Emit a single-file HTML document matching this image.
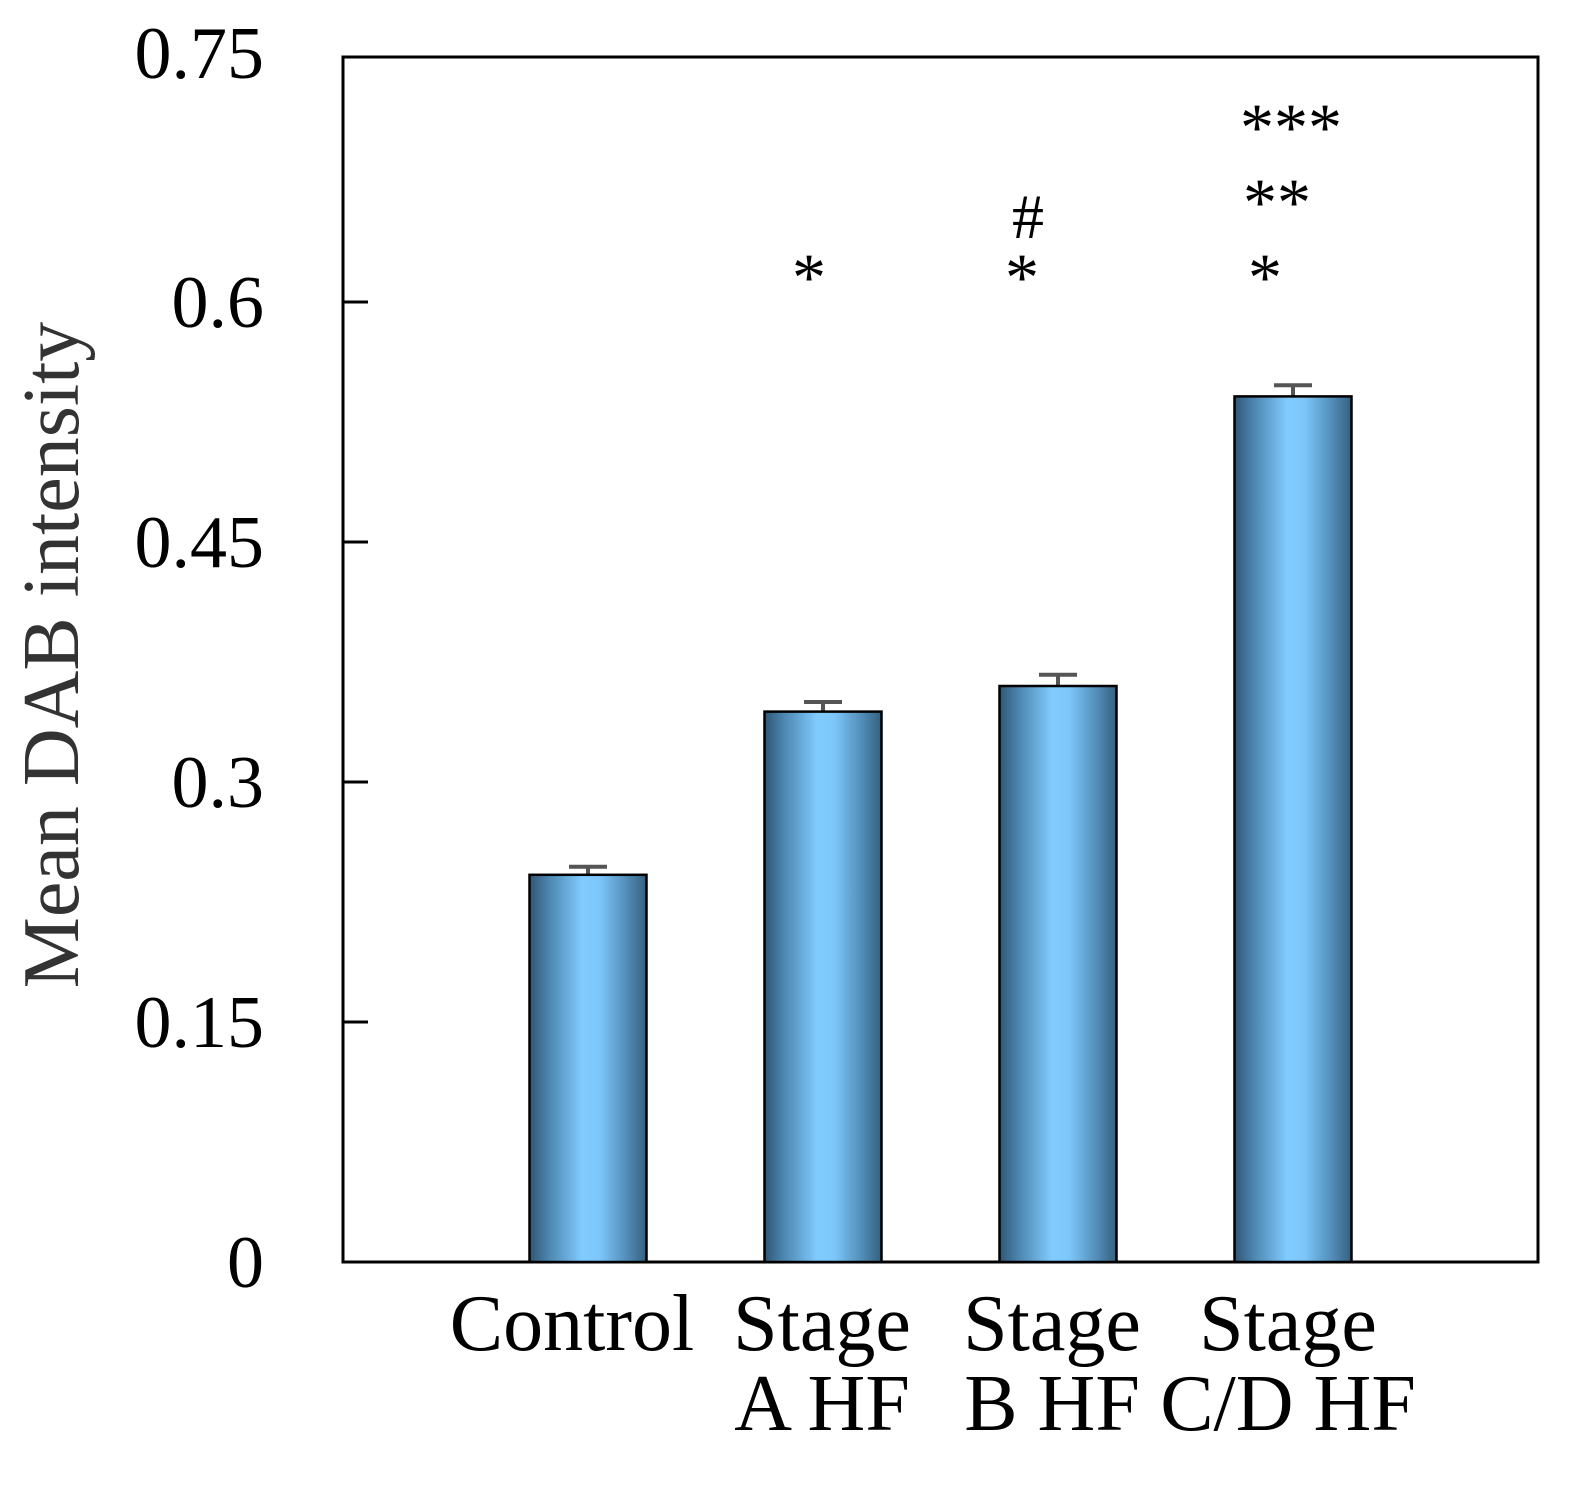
<!DOCTYPE html>
<html><head><meta charset="utf-8"><style>
body{margin:0;background:#fff}
svg text{font-family:"Liberation Serif",serif}
</style></head><body>
<svg id="chart" width="1593" height="1481" viewBox="0 0 1593 1481">
<defs>
<linearGradient id="bg" x1="0" x2="1" y1="0" y2="0">
<stop offset="0" stop-color="#2f5675"/>
<stop offset="0.15" stop-color="#4a82ab"/>
<stop offset="0.45" stop-color="#80cbff"/>
<stop offset="0.6" stop-color="#7cc6fa"/>
<stop offset="0.85" stop-color="#4f88b2"/>
<stop offset="1" stop-color="#35607f"/>
</linearGradient>
</defs>
<g id="plot"></g>
</svg>
<script>
const categories=[["Control"],["Stage","A HF"],["Stage","B HF"],["Stage","C/D HF"]];
const values=[0.242,0.344,0.360,0.541];
const errors=[0.005,0.006,0.007,0.007];
const yTicks=[0,0.15,0.3,0.45,0.6];
const yTickLabels=["0","0.15","0.3","0.45","0.6"];
const annotations=[[],["*"],["*","#"],["*","**","***"]];

const L=343,R=1538,T=57,B=1262;
const ymin=0,ymax=0.75;
function y(v){return B-(v-ymin)/(ymax-ymin)*(1262-62);}
function x(i){return 588+i*235;}
const bw=117;
const ns="http://www.w3.org/2000/svg";
const g=document.getElementById('plot');
function el(t,a,p){const e=document.createElementNS(ns,t);for(const k in a)e.setAttribute(k,a[k]);(p||g).appendChild(e);return e;}

const frame=el('rect',{x:L,y:T,width:R-L,height:B-T,fill:'none',stroke:'#000','stroke-width':3});



yTicks.forEach((v,i)=>{
  const t=el('line',{x1:L,x2:L+25,y1:y(v),y2:y(v),stroke:'#000','stroke-width':3});
  
  
  const tx=el('text',{x:264,y:y(v)+25,'text-anchor':'end','font-size':74,fill:'#000'});
  tx.textContent=yTickLabels[i];
  
  
});
const topLabel=el('text',{x:264,y:78,'text-anchor':'end','font-size':74,fill:'#000'});
topLabel.textContent='0.75';



const labelX=[572,822,1052,1288];
const annPos={"*":[0,300],"**":[-10,225],"***":[5,150],"#":[5,238]};
const annShift=[[0],[0],[-6,-5],[-6,16,15]];
values.forEach((v,i)=>{
  const cx=x(i);
  const e1=y(v+errors[i]);
  const st=el('line',{x1:cx,x2:cx,y1:e1,y2:y(v),stroke:'#555','stroke-width':4});
  
  
  const cap=el('line',{x1:cx-19,x2:cx+19,y1:e1,y2:e1,stroke:'#555','stroke-width':4});
  
  
  const b=el('rect',{x:cx-bw/2,y:y(v),width:bw,height:B-y(v),fill:'url(#bg)',stroke:'#000','stroke-width':2.5});
  
  
  categories[i].forEach((line,j)=>{
    const t=el('text',{x:labelX[i],y:1350+j*80,'text-anchor':'middle','font-size':80,fill:'#000'});
    t.textContent=line;
    
    
  });
  annotations[i].forEach((a,j)=>{
    const p=annPos[a];
    const t=el('text',{x:cx-(i==3?22:i==2?30:14)+p[0]+annShift[i][j],y:p[1],'text-anchor':'middle','font-size':a=='#'?64:68,fill:'#000'});
    t.textContent=a;
    
    
  });
});

const yt=el('text',{x:0,y:0,'text-anchor':'middle','font-size':80,fill:'#333',transform:'translate(78,655) rotate(-90)'});
yt.textContent='Mean DAB intensity';


</script>
</body></html>
